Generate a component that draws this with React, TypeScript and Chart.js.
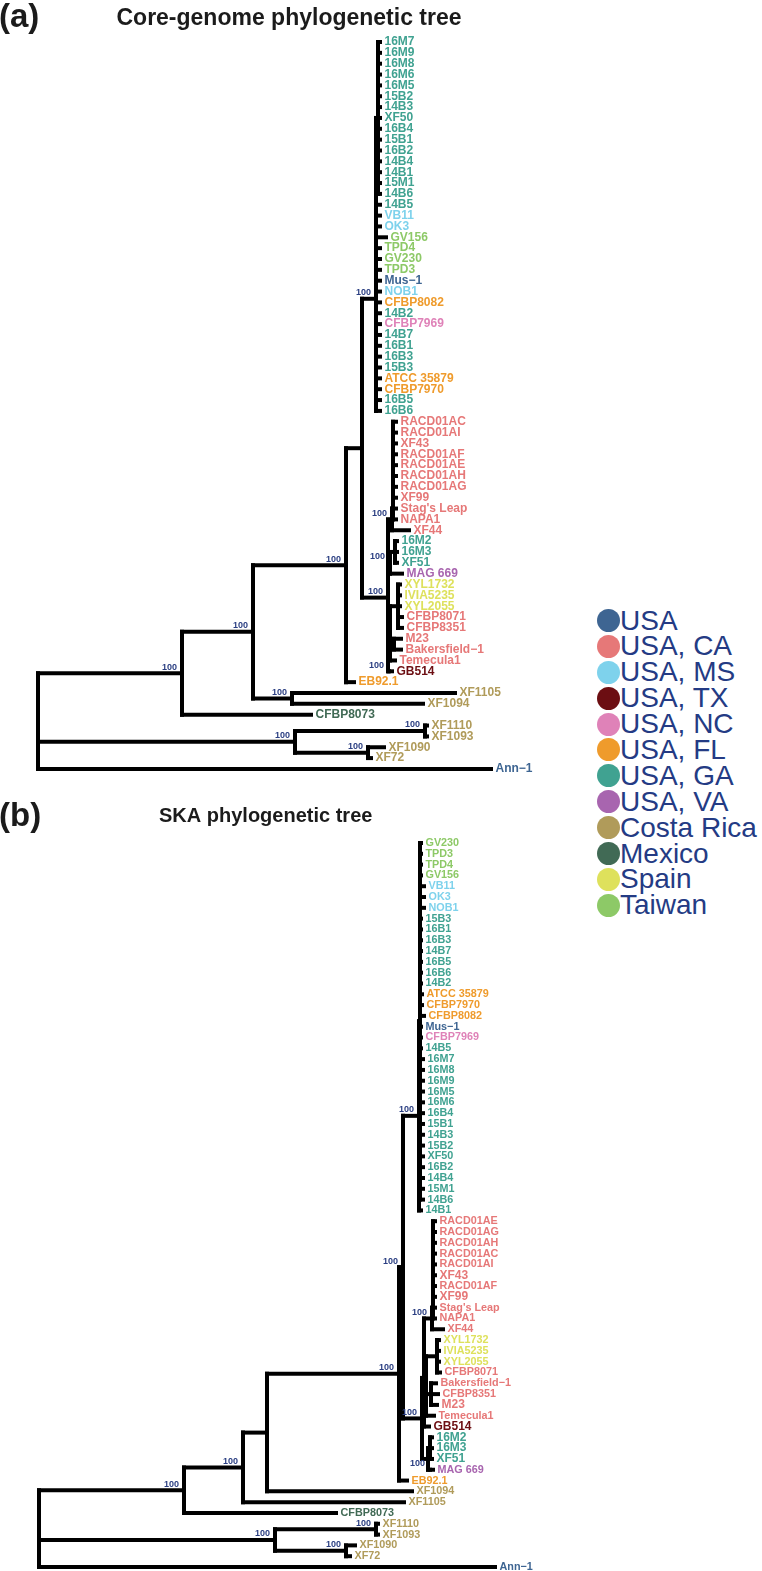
import React, { useEffect, useRef } from "react";
import { Chart, registerables } from "chart.js";
Chart.register(...registerables);

// ---------- legend categories ----------
const COUNTRIES = ["USA", "USA, CA", "USA, MS", "USA, TX", "USA, NC", "USA, FL", "USA, GA", "USA, VA", "Costa Rica", "Mexico", "Spain", "Taiwan"];
const COUNTRY_COLORS = ["#3E6592", "#E67878", "#7ED2EC", "#6C0E12", "#DF82B8", "#EF9B2C", "#40A291", "#A865AF", "#B09B5A", "#416A55", "#DEE15C", "#8DC967"];

// ---------- strain origin (same order as COUNTRIES) ----------
const STRAINS_USA = ["Mus−1", "Ann−1"];
const STRAINS_CA = ["RACD01AC", "RACD01AI", "XF43", "RACD01AF", "RACD01AE", "RACD01AH", "RACD01AG", "XF99", "Stag's Leap", "NAPA1", "XF44", "CFBP8071", "CFBP8351", "M23", "Bakersfield−1", "Temecula1"];
const STRAINS_MS = ["VB11", "OK3", "NOB1"];
const STRAINS_TX = ["GB514"];
const STRAINS_NC = ["CFBP7969"];
const STRAINS_FL = ["CFBP8082", "ATCC 35879", "CFBP7970", "EB92.1"];
const STRAINS_GA = ["16M7", "16M9", "16M8", "16M6", "16M5", "15B2", "14B3", "XF50", "16B4", "15B1", "16B2", "14B4", "14B1", "15M1", "14B6", "14B5", "14B2", "14B7", "16B1", "16B3", "15B3", "16B5", "16B6", "16M2", "16M3", "XF51"];
const STRAINS_VA = ["MAG 669"];
const STRAINS_CR = ["XF1105", "XF1094", "XF1110", "XF1093", "XF1090", "XF72"];
const STRAINS_MX = ["CFBP8073"];
const STRAINS_ES = ["XYL1732", "IVIA5235", "XYL2055"];
const STRAINS_TW = ["GV156", "TPD4", "GV230", "TPD3"];
const STRAIN_GROUPS = [STRAINS_USA, STRAINS_CA, STRAINS_MS, STRAINS_TX, STRAINS_NC, STRAINS_FL, STRAINS_GA, STRAINS_VA, STRAINS_CR, STRAINS_MX, STRAINS_ES, STRAINS_TW];

// ---------- (a) core-genome tree, Newick (branch lengths, bootstrap labels) ----------
const A_GA = "((16M7:0.002,16M9:0.002,16M8:0.002,16M6:0.002,16M5:0.002,15B2:0.002,14B3:0.002,XF50:0.002,16B4:0.002,15B1:0.002,16B2:0.002,14B4:0.002,14B1:0.002,15M1:0.002,14B6:0.002):0.002,14B5:0.004,VB11:0.004,OK3:0.004,GV156:0.010,TPD4:0.004,GV230:0.004,TPD3:0.004,Mus−1:0.004,NOB1:0.004,CFBP8082:0.004,14B2:0.004,CFBP7969:0.004,14B7:0.004,16B1:0.004,16B3:0.004,15B3:0.004,ATCC 35879:0.004,CFBP7970:0.004,16B5:0.004,16B6:0.004)100:0.014";
const A_CA = "((((((((((RACD01AC:0.003,RACD01AI:0.003):0,XF43:0.003):0,RACD01AF:0.003):0,RACD01AE:0.003):0,RACD01AH:0.003):0,RACD01AG:0.003):0,XF99:0.003):0,Stag's Leap:0.003):0,NAPA1:0.003):0.001,XF44:0.017)100:0.004";
const A_C2 = "((16M2:0.002,16M3:0.002,XF51:0.002):0.005,MAG 669:0.012)100:0.002";
const A_C3 = "((XYL1732:0.002,IVIA5235:0.002,XYL2055:0.002,CFBP8071:0.004,CFBP8351:0.004):0.008,(M23:0.007,Bakersfield−1:0.007):0.004,Temecula1:0.005):0.002";
const A_N6 = "(" + A_CA + "," + A_C2 + "," + A_C3 + ",(GB514:0.003)100:0.001)100:0.026";
const A_N4 = "((" + A_GA + "," + A_N6 + "):0.016,EB92.1:0.008)100:0.093";
const A_N2 = "(" + A_N4 + ",(XF1105:0.163,XF1094:0.131)100:0.039)100:0.071";
const A_OUT = "((XF1110:0.002,XF1093:0.002)100:0.130,(XF1090:0.016,XF72:0.003)100:0.073)100:0.257";
const TREE_A_NEWICK = "((" + A_N2 + ",CFBP8073:0.129)100:0.144," + A_OUT + ",Ann−1:0.453);";

// ---------- (b) SKA tree ----------
const B_GA = "((GV230:0.001,TPD3:0.001,TPD4:0.001,GV156:0.001,VB11:0.004,OK3:0.004,NOB1:0.004,15B3:0.001,16B1:0.001,16B3:0.001,14B7:0.001,16B5:0.001,16B6:0.001,14B2:0.001,ATCC 35879:0.002,CFBP7970:0.002,CFBP8082:0.004,Mus−1:0.001,CFBP7969:0.001,14B5:0.001,16M7:0.003,16M8:0.003,16M9:0.003,16M5:0.003,16M6:0.003,16B4:0.003,15B1:0.003,14B3:0.003,15B2:0.003,XF50:0.003,16B2:0.003,14B4:0.003,15M1:0.003,14B6:0.003):0.001,14B1:0.002)100:0.016";
const B_CA = "((((((((((RACD01AE:0.002,RACD01AG:0.002):0,RACD01AH:0.002):0,RACD01AC:0.002):0,RACD01AI:0.002):0,XF43:0.002):0,RACD01AF:0.002):0,XF99:0.002):0,Stag's Leap:0.002):0,NAPA1:0.002):0.001,XF44:0.011)100:0.008";
const B_C3 = "((XYL1732:0.002,IVIA5235:0.002,XYL2055:0.002,CFBP8071:0.003):0.011,(Bakersfield−1:0.005,CFBP8351:0.007,M23:0.006):0.005,Temecula1:0.008):0.002";
const B_C2 = "((16M2:0.002,16M3:0.002,XF51:0.002):0.002,(MAG 669:0.003)100:0.002):0.006";
const B_N7 = "((" + B_CA + "," + B_C3 + ",GB514:0.005):0.002," + B_C2 + ")100:0.019";
const B_N5 = "((" + B_GA + "," + B_N7 + ")100:0.004,EB92.1:0.008)100:0.132";
const B_N2 = "((" + B_N5 + ",XF1094:0.145):0.024,XF1105:0.161)100:0.059";
const B_OUT = "((XF1110:0.002,XF1093:0.002)100:0.101,(XF1090:0.009,XF72:0.004)100:0.071)100:0.236";
const TREE_B_NEWICK = "((" + B_N2 + ",CFBP8073:0.152)100:0.145," + B_OUT + ",Ann−1:0.456);";
const TREE_B_LARGE_LABELS = ["XF43", "XF99", "M23", "GB514", "16M2", "16M3", "XF51"];

// ---------- helpers ----------
type TNode = { name: string; len: number; children: TNode[]; x: number; y: number };

function parseNewick(src: string): TNode {
  const s = src.trim().replace(/;$/, "");
  let i = 0;
  const parse = (): TNode => {
    const node: TNode = { name: "", len: 0, children: [], x: 0, y: 0 };
    if (s[i] === "(") {
      i++;
      for (;;) {
        node.children.push(parse());
        if (s[i] === ",") { i++; continue; }
        if (s[i] === ")") { i++; break; }
        throw new Error("bad newick at " + i);
      }
    }
    let name = "";
    while (i < s.length && !",():".includes(s[i])) name += s[i++];
    node.name = name.trim();
    if (s[i] === ":") {
      i++;
      let num = "";
      while (i < s.length && !",()".includes(s[i])) num += s[i++];
      node.len = parseFloat(num);
    }
    return node;
  };
  return parse();
}

function layoutTree(root: TNode) {
  const leaves: TNode[] = [];
  const internals: TNode[] = [];
  const walk = (n: TNode, px: number) => {
    n.x = px + n.len;
    if (!n.children.length) { n.y = leaves.length; leaves.push(n); return; }
    n.children.forEach((c) => walk(c, n.x));
    n.y = n.children.reduce((a, c) => a + c.y, 0) / n.children.length;
    internals.push(n);
  };
  walk(root, 0);
  return { leaves, internals };
}

function colorOf(name: string) {
  for (let k = 0; k < STRAIN_GROUPS.length; k++) if (STRAIN_GROUPS[k].includes(name)) return COUNTRY_COLORS[k];
  return "#000";
}

const FONT = '"Liberation Sans", Arial, Helvetica, sans-serif';

type TreeProps = {
  newick: string; top: number; width: number; height: number;
  xMin: number; xMax: number; firstLeafPx: number; leafStep: number;
  labelSize: number; largeLabels: string[];
  letter: string; letterBase: number; title: string; titleX: number; titleBase: number; titleSize: number; titleAlign: CanvasTextAlign;
};

function TreeChart(p: TreeProps) {
  const ref = useRef<HTMLCanvasElement>(null);
  useEffect(() => {
    const tree = parseNewick(p.newick);
    const { leaves, internals } = layoutTree(tree);
    const datasets: any[] = [];
    const seg = (x1: number, y1: number, x2: number, y2: number) =>
      datasets.push({
        data: [{ x: x1, y: y1 }, { x: x2, y: y2 }], showLine: true, borderColor: "#000", borderWidth: 4,
        borderCapStyle: "square", pointRadius: 0, pointHoverRadius: 0, clip: false, tension: 0,
      });
    internals.forEach((n) => {
      const ys = n.children.map((c) => c.y);
      if (n.children.length > 1) seg(n.x, Math.min(...ys), n.x, Math.max(...ys));
      n.children.forEach((c) => seg(n.x, c.y, c.x, c.y));
    });
    const yMin = -p.firstLeafPx / p.leafStep;
    const yMax = yMin + p.height / p.leafStep;
    const textPlugin = {
      id: "treeText",
      afterDatasetsDraw(chart: any) {
        const ctx = chart.ctx as CanvasRenderingContext2D;
        const xs = chart.scales.x, ys = chart.scales.y;
        ctx.save();
        ctx.textBaseline = "middle";
        ctx.textAlign = "left";
        leaves.forEach((l) => {
          const size = p.largeLabels.includes(l.name) ? 12 : p.labelSize;
          ctx.font = `bold ${size}px ${FONT}`;
          ctx.fillStyle = colorOf(l.name);
          ctx.fillText(l.name, xs.getPixelForValue(l.x) + 4.5, ys.getPixelForValue(l.y));
        });
        ctx.font = `bold 9px ${FONT}`;
        ctx.fillStyle = "#2B3F82";
        ctx.textAlign = "right";
        internals.forEach((n) => {
          if (n.name) ctx.fillText(n.name, xs.getPixelForValue(n.x) - 5, ys.getPixelForValue(n.y) - 6);
        });
        ctx.textBaseline = "alphabetic";
        ctx.fillStyle = "#1b1b1b";
        ctx.textAlign = "left";
        ctx.font = `bold 33px ${FONT}`;
        ctx.fillText(p.letter, -1, p.letterBase);
        ctx.textAlign = p.titleAlign;
        ctx.font = `bold ${p.titleSize}px ${FONT}`;
        ctx.fillText(p.title, p.titleX, p.titleBase);
        ctx.restore();
      },
    };
    const chart = new Chart(ref.current as HTMLCanvasElement, {
      type: "scatter",
      data: { datasets },
      options: {
        animation: false, responsive: false, events: [], devicePixelRatio: 1,
        layout: { padding: 0 },
        plugins: { legend: { display: false }, tooltip: { enabled: false }, title: { display: false } },
        scales: {
          x: { type: "linear", min: p.xMin, max: p.xMax, display: false },
          y: { type: "linear", min: yMin, max: yMax, reverse: true, display: false },
        },
      } as any,
      plugins: [textPlugin],
    });
    return () => chart.destroy();
  }, []);
  return (
    <canvas ref={ref} width={p.width} height={p.height}
      style={{ position: "absolute", left: 0, top: p.top, width: p.width, height: p.height }} />
  );
}

export default function App() {
  return (
    <div style={{ position: "absolute", left: 0, top: 0, width: 762, height: 1571, overflow: "hidden", background: "#fff" }}>
      <TreeChart newick={TREE_A_NEWICK} top={0} width={560} height={790} xMin={-0.038} xMax={0.522}
        firstLeafPx={42} leafStep={10.85} labelSize={12} largeLabels={[]}
        letter="(a)" letterBase={27} title="Core-genome phylogenetic tree" titleX={289} titleBase={25} titleSize={23} titleAlign="center" />
      <TreeChart newick={TREE_B_NEWICK} top={790} width={560} height={781} xMin={-0.039} xMax={0.521}
        firstLeafPx={53} leafStep={10.806} labelSize={10.8} largeLabels={TREE_B_LARGE_LABELS}
        letter="(b)" letterBase={36} title="SKA phylogenetic tree" titleX={159} titleBase={31.7} titleSize={20} titleAlign="left" />
      <div style={{ position: "absolute", left: 597, top: 607.5 }}>
        {COUNTRIES.map((c, i) => (
          <div key={c} style={{ height: 25.9, display: "flex", alignItems: "center", whiteSpace: "nowrap" }}>
            <span style={{ width: 23, height: 23, borderRadius: "50%", background: COUNTRY_COLORS[i], display: "inline-block", flex: "none" }} />
            <span style={{ font: `28px ${FONT}`, lineHeight: "25.9px", color: "#243B84" }}>{c}</span>
          </div>
        ))}
      </div>
    </div>
  );
}
